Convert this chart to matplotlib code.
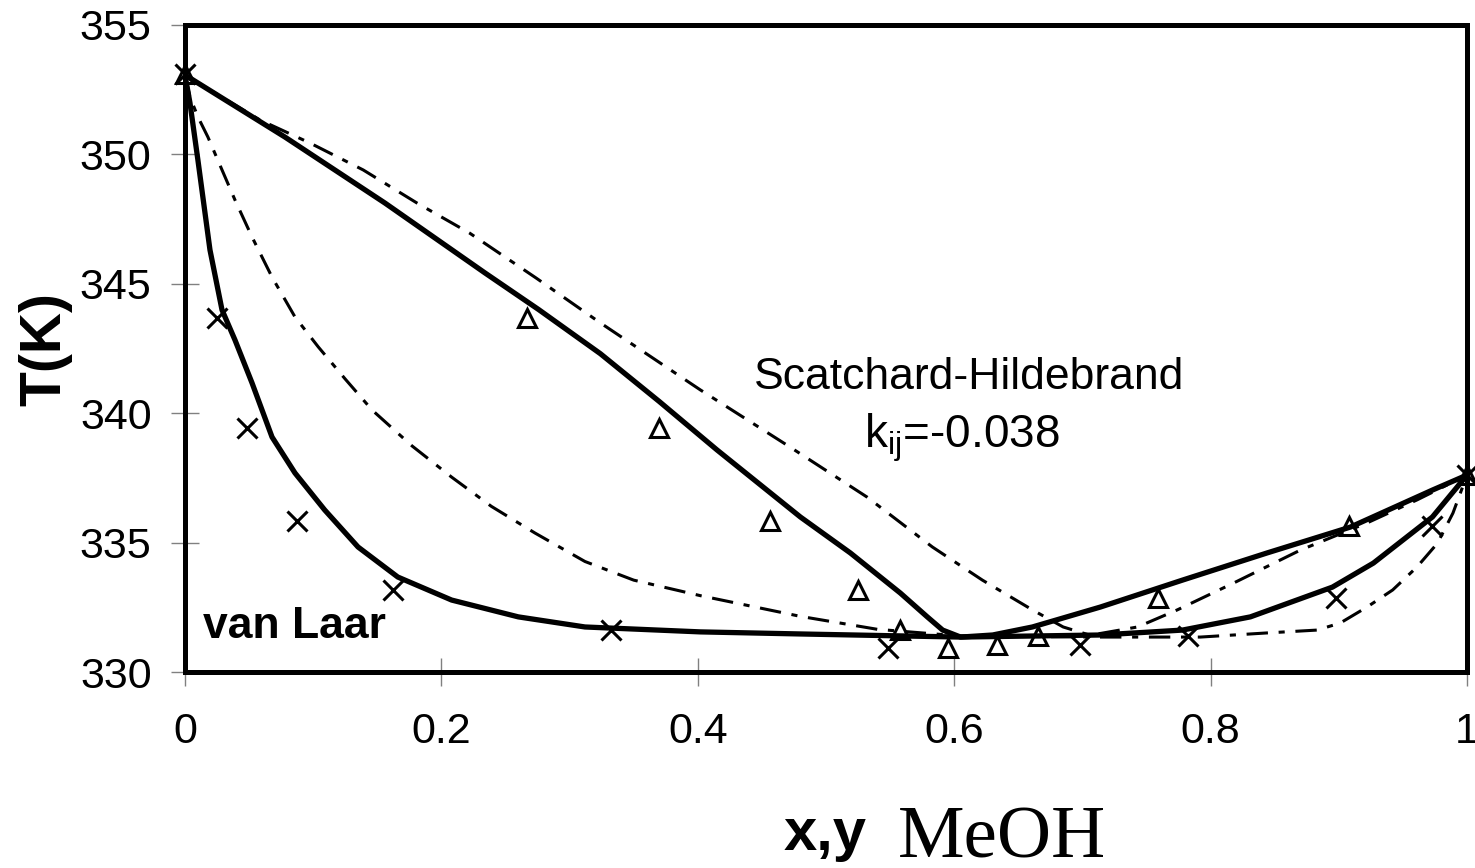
import numpy as np
import matplotlib.pyplot as plt

plt.rcParams['font.family'] = ['Liberation Sans', 'DejaVu Sans']
plt.rcParams['mathtext.default'] = 'regular'

# experimental data, MeOH mole fraction vs T(K)
x_liq = [0.0, 0.025, 0.048, 0.087, 0.162, 0.332, 0.548, 0.698, 0.782, 0.898, 0.973, 1.0]
y_vap = [0.0, 0.267, 0.370, 0.456, 0.525, 0.558, 0.595, 0.633, 0.665, 0.759, 0.908, 1.0]
T_exp = [353.1, 343.68, 339.43, 335.83, 333.17, 331.62, 330.93, 331.04, 331.39, 332.86, 335.64, 337.6]

# van Laar model
vl_x = [0, 0.0039, 0.0101, 0.0195, 0.0289, 0.039, 0.0523, 0.0679, 0.0858, 0.109, 0.135,
        0.166, 0.208, 0.260, 0.312, 0.402, 0.480, 0.605, 0.714, 0.778, 0.831, 0.895,
        0.927, 0.973, 1.0]
vl_Tx = [353.07, 351.99, 349.78, 346.31, 343.99, 342.83, 341.17, 339.08, 337.69, 336.26,
         334.83, 333.67, 332.78, 332.13, 331.74, 331.55, 331.47, 331.35, 331.43, 331.62,
         332.13, 333.28, 334.21, 335.99, 337.61]
vl_y = [0, 0.078, 0.156, 0.234, 0.276, 0.324, 0.370, 0.415, 0.480, 0.519, 0.558, 0.579,
        0.591, 0.605, 0.630, 0.661, 0.714, 0.778, 0.844, 0.909, 0.973, 1.0]
vl_Ty = [353.07, 350.67, 348.12, 345.42, 344.0, 342.30, 340.45, 338.58, 335.99, 334.60,
         333.05, 332.13, 331.62, 331.35, 331.43, 331.74, 332.51, 333.55, 334.60, 335.60,
         337.03, 337.61]

# Scatchard-Hildebrand model, kij = -0.038
sh_x = [0, 0.0039, 0.0101, 0.0179, 0.0289, 0.039, 0.0523, 0.0679, 0.0858, 0.104, 0.125,
        0.146, 0.177, 0.208, 0.239, 0.273, 0.312, 0.350, 0.402, 0.480, 0.540, 0.605,
        0.714, 0.792, 0.844, 0.883, 0.901, 0.922, 0.942, 0.961, 0.977, 0.989, 1.0]
sh_Tx = [353.07, 352.22, 351.45, 350.67, 349.40, 348.24, 346.81, 345.26, 343.72, 342.56,
         341.32, 340.12, 338.74, 337.53, 336.40, 335.37, 334.27, 333.55, 332.95, 332.15,
         331.65, 331.39, 331.35, 331.35, 331.51, 331.62, 331.89, 332.51, 333.17, 334.06,
         334.98, 336.14, 337.61]
sh_y = [0, 0.0585, 0.0975, 0.139, 0.181, 0.222, 0.274, 0.324, 0.402, 0.472, 0.532, 0.583,
        0.622, 0.661, 0.685, 0.706, 0.743, 0.774, 0.818, 0.870, 0.922, 0.961, 1.0]
sh_Ty = [353.07, 351.33, 350.44, 349.40, 348.12, 346.96, 345.22, 343.49, 340.90, 338.69,
         336.76, 334.83, 333.55, 332.40, 331.74, 331.42, 331.74, 332.40, 333.44, 334.71,
         335.76, 336.65, 337.61]

fig = plt.figure(figsize=(14.75, 8.68), dpi=100)
ax = fig.add_axes([0.1254, 0.2258, 0.8692, 0.7454])

dashdot = (0, (7, 3.5, 2, 3.5))
ax.plot(sh_x, sh_Tx, color='black', lw=2.2, ls=dashdot)
ax.plot(sh_y, sh_Ty, color='black', lw=2.2, ls=dashdot)
ax.plot(vl_x, vl_Tx, color='black', lw=3.8, solid_joinstyle='round')
ax.plot(vl_y, vl_Ty, color='black', lw=3.8, solid_joinstyle='round')

ax.plot(x_liq, T_exp, ls='none', marker='x', ms=15, mew=2.2, color='black', clip_on=False)
ax.plot(y_vap, T_exp, ls='none', marker='^', ms=13, mew=2.2, mfc='none', mec='black',
        clip_on=False)

ax.set_xlim(0, 1)
ax.set_ylim(330, 355)
ax.set_xticks([0, 0.2, 0.4, 0.6, 0.8, 1.0])
ax.set_xticklabels(['0', '0.2', '0.4', '0.6', '0.8', '1'])
ax.set_yticks([330, 335, 340, 345, 350, 355])
for s in ax.spines.values():
    s.set_linewidth(3.6)
    s.set_color('black')
ax.tick_params(direction='inout', length=20, width=1, color='#808080', labelsize=31)
ax.tick_params(axis='x', pad=19)
ax.tick_params(axis='y', pad=14)

ax.text(0.612, 340.94, 'Scatchard-Hildebrand', ha='center', va='baseline', fontsize=32)
ax.text(0.606, 338.69, r'k$_{ij}$=-0.038', ha='center', va='baseline', fontsize=33)
ax.text(0.014, 331.31, 'van Laar', ha='left', va='baseline', fontsize=32, fontweight='bold')

fig.text(0.031, 0.598, 'T(K)', rotation=90, ha='center', va='center', fontsize=41,
         fontweight='bold')
fig.text(0.531, (868 - 850) / 868, 'x,y', ha='left', va='baseline', fontsize=43,
         fontweight='bold')
fig.text(0.609, (868 - 857) / 868, 'MeOH', ha='left', va='baseline', fontsize=54,
         family='Liberation Serif')

fig.savefig('out.png', dpi=100)
